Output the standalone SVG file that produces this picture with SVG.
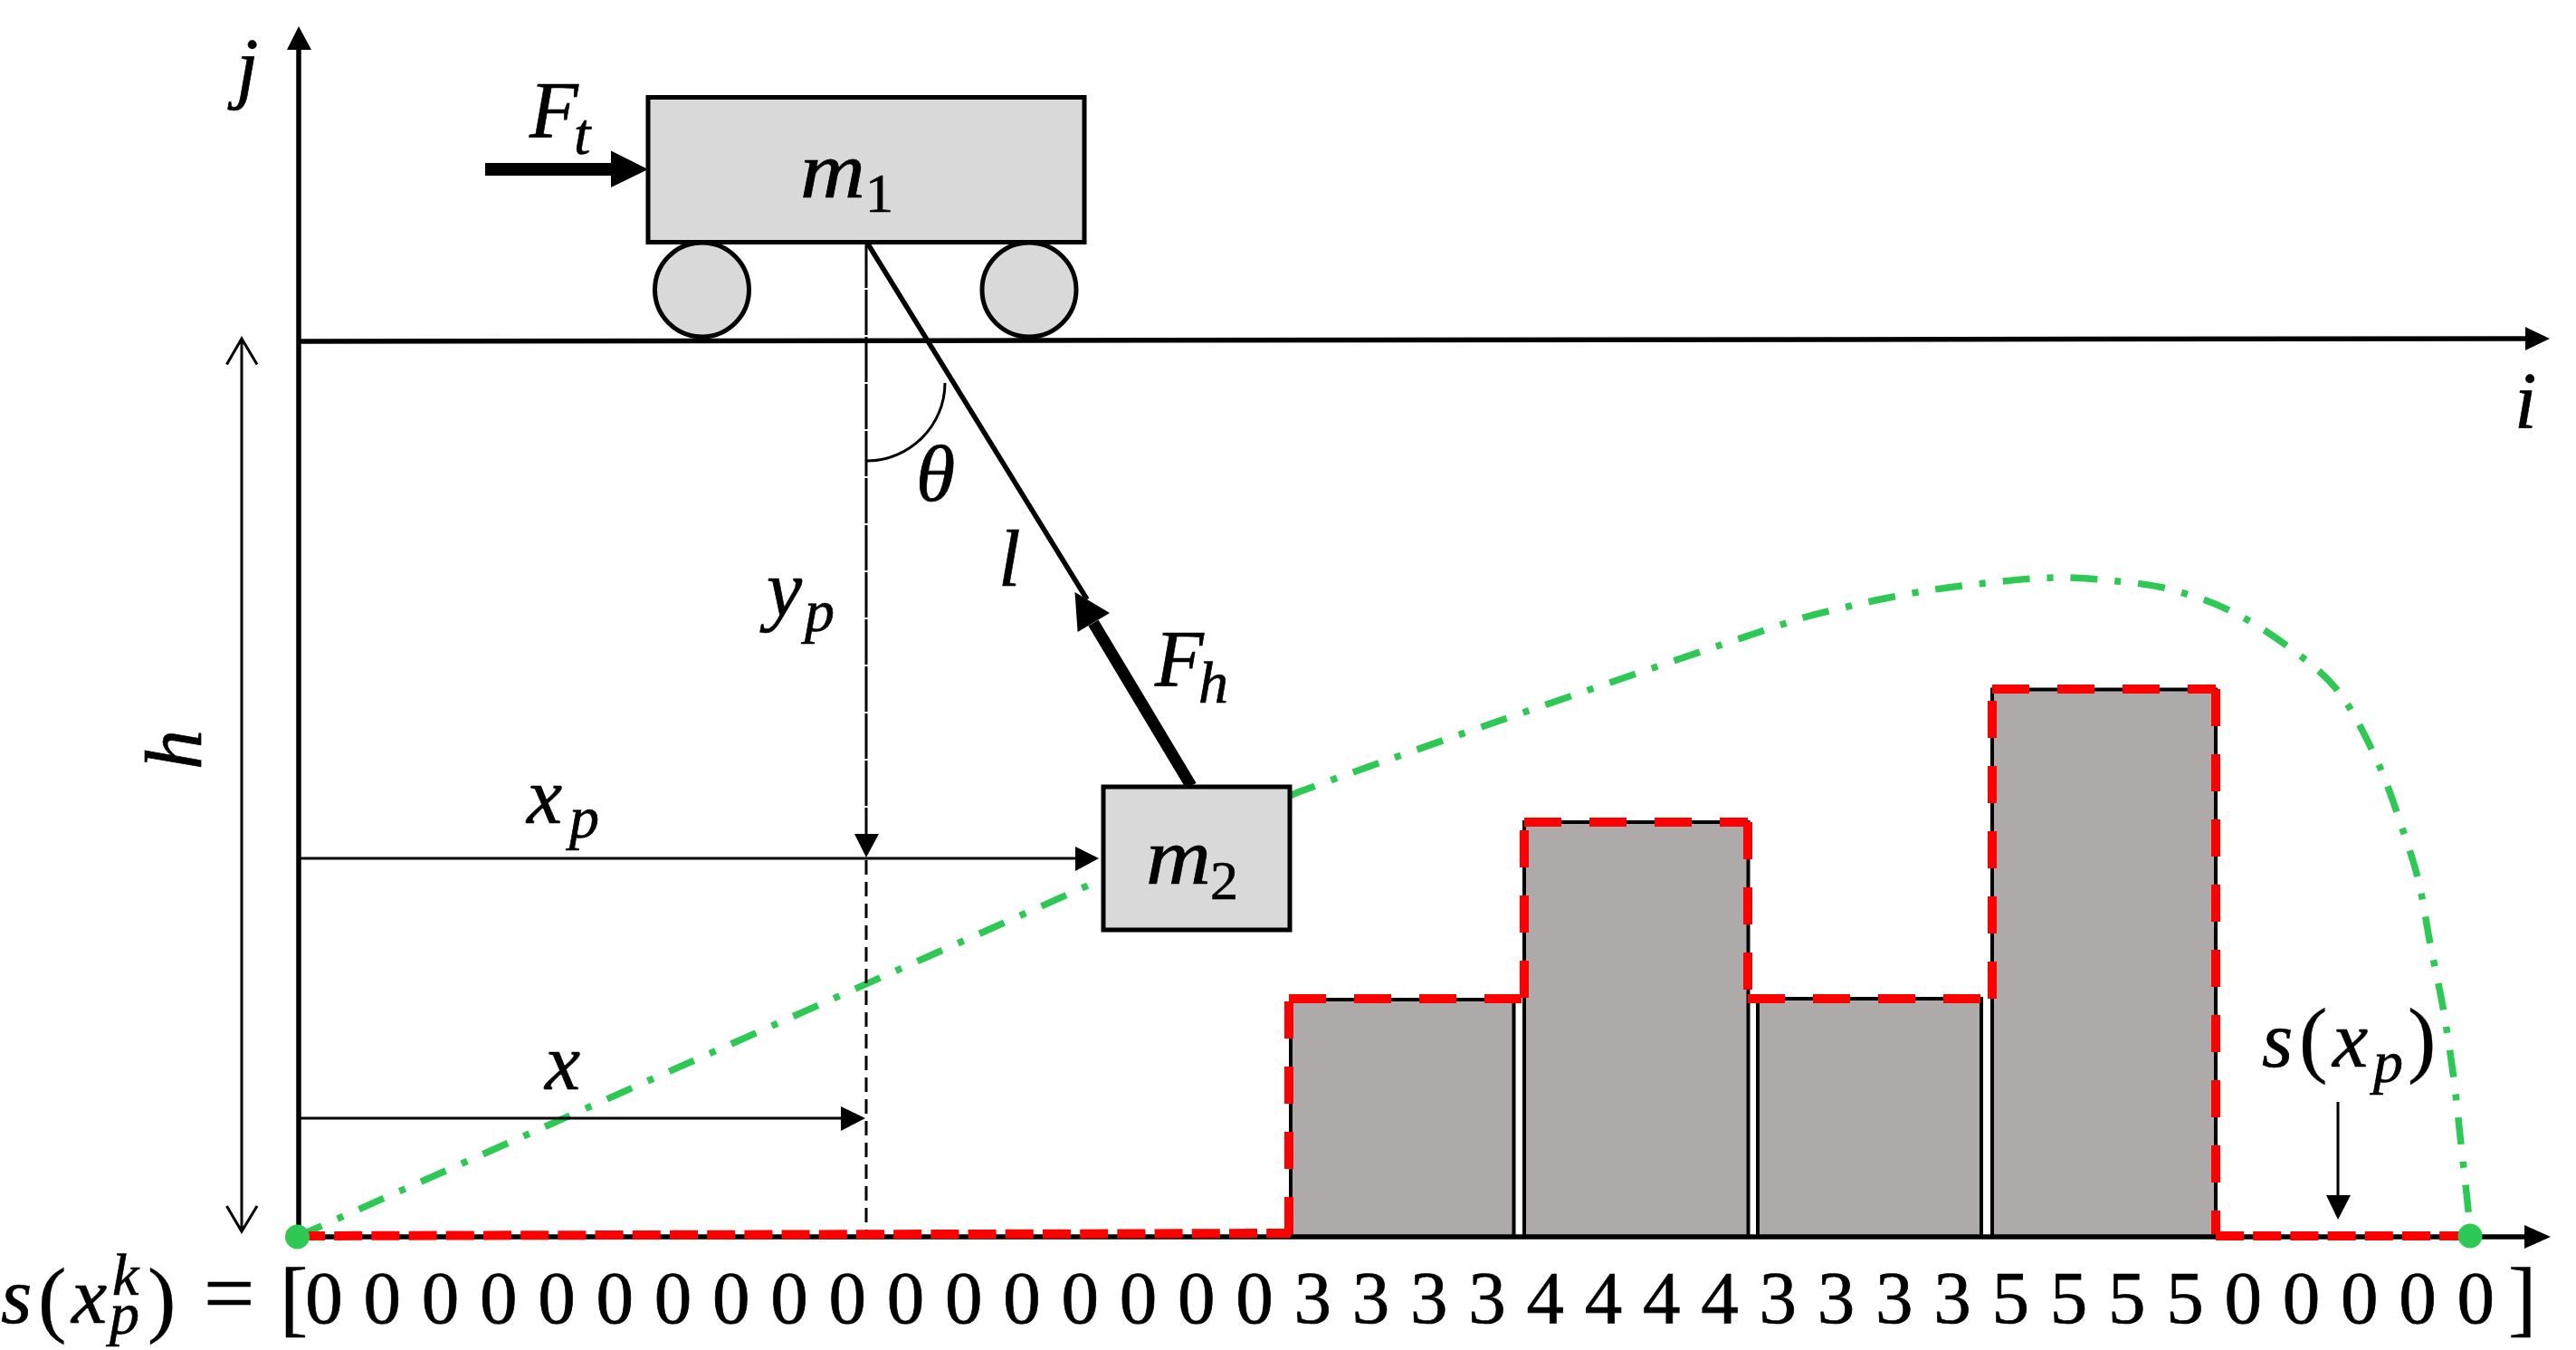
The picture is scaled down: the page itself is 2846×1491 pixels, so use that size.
<svg xmlns="http://www.w3.org/2000/svg" width="2846" height="1491" viewBox="0 0 2846 1491">
<defs>
<style>
text{font-family:"Liberation Serif","Times New Roman",serif;fill:#000;stroke:#000;stroke-width:.7}
.m{font-size:88px;font-style:italic}
.s{font-size:66px;font-style:italic}
.n{font-size:62px}
.u{font-size:94px;stroke-width:.4}
.e{font-size:100px}
.d{font-size:83px;word-spacing:2px}
.ax{stroke:#000;stroke-width:5.500;fill:none}
.th{stroke:#000;stroke-width:3;fill:none}
.body{fill:#d9d9d9;stroke:#000;stroke-width:5}
.blk{fill:#aeaaaa;stroke:#000;stroke-width:4}
.rl{stroke:#ff0000;stroke-width:10;fill:none;stroke-dasharray:41 31}
.rs{stroke:#ff0000;stroke-width:10;fill:none;stroke-dasharray:31 10.2}
.gr{stroke:#2ec955;stroke-width:7.500;fill:none;stroke-dasharray:30 19 7 19}
.dot{fill:#2ec955}
</style>
</defs>
<rect width="2846" height="1491" fill="#fff"/>
<g id="connectors">
<path class="gr" d="M328,1366 L1434,875 C1564,827 1873,721 1983,685 C2001,679 2061,665 2092,659 C2123,653 2142,650 2167,647 C2192,644 2225,640.500 2244,639 C2257,638 2270,638 2282,638 C2294,638 2306,639 2319,640 C2338,642 2370,644 2394,650 C2418,656 2443,664 2465,675 C2487,686 2509,700 2529,715 C2549,730 2568,744 2583,763 C2598,782 2611,808 2622,831 C2633,854 2641,876 2649,900 C2657,924 2666,948 2672,973 C2678,998 2681,1023 2686,1048 C2691,1073 2697,1099 2701,1124 C2705,1149 2709,1175 2712,1200 C2715,1225 2717,1246 2720,1273 C2723,1300 2728,1340 2729,1365"/>
<path class="ax" d="M330,1366 V50"/>
<polygon points="330,29 317,55 344,55"/>
<path class="ax" d="M330,377 L2795,374"/>
<polygon points="2817,374 2790,361 2790,387"/>
<path class="th" d="M267,374 V1360 M250.500,402.600 L267,374 L284,402.600 M250.500,1332 L267,1360 L284,1332"/>
<path class="th" d="M957,268 V925" stroke-dasharray="50 2"/>
<polygon points="957,947 944,921 971,921"/>
<path class="th" d="M957,950 V1364" stroke-dasharray="16 8"/>
<path class="th" d="M332,948 H1190"/>
<polygon points="1214,948 1188,935 1188,962"/>
<path class="th" d="M332,1235 H932"/>
<polygon points="956,1235 929,1222 929,1249"/>
<path class="th" stroke-width="2.500" d="M1044,423 C1044,470 1005,509 958,509"/>
<path class="ax" stroke-width="6" d="M958,268 L1201,662"/>
<polygon points="1187.500,654 1190.600,698 1226,677"/>
<path d="M1316,868 L1208,688" stroke="#000" stroke-width="13" fill="none"/>
<path d="M536,187 H680" stroke="#000" stroke-width="14" fill="none"/>
<polygon points="716,187 675,166.500 675,207"/>
<path class="th" d="M2583,1217 V1325"/>
<polygon points="2583,1347 2570,1320 2597,1320"/>
</g>
<g id="blocks">
<rect class="blk" x="1426" y="1104" width="246.500" height="262"/>
<rect class="blk" x="1684" y="908" width="247.500" height="458"/>
<rect class="blk" x="1942" y="1103" width="247" height="263"/>
<rect class="blk" x="2201" y="761.500" width="247" height="604.500"/>
</g>
<g id="baseline">
<path class="ax" d="M330,1366 H2795"/>
<polygon points="2818,1366 2789,1353 2789,1379"/>
</g>
<g id="profile">
<path class="rs" d="M328,1365 L1426,1362"/>
<path class="rl" d="M1424,1106 V1363"/>
<path class="rl" d="M1424,1103 H1684"/>
<path class="rl" d="M1684,1102 V908"/>
<path class="rl" d="M1684,908 H1931"/>
<path class="rl" d="M1931,908 V1102"/>
<path class="rl" d="M1931,1103 H2189"/>
<path class="rl" d="M2201,1103 V761"/>
<path class="rl" d="M2201,761 H2448"/>
<path class="rl" d="M2448,761 V1363"/>
<path class="rs" d="M2448,1365 H2725"/>
<ellipse class="dot" cx="328.500" cy="1366" rx="13.500" ry="13.500"/>
<ellipse class="dot" cx="2729" cy="1365" rx="13.500" ry="13.500"/>
</g>
<g id="cart">
<circle class="body" cx="775.500" cy="320" r="52"/>
<circle class="body" cx="1137" cy="320" r="52"/>
<rect class="body" x="716" y="107.500" width="482" height="160"/>
<text class="m" x="884" y="218" textLength="72" lengthAdjust="spacingAndGlyphs">m</text><text class="n" x="956" y="234">1</text>
</g>
<g id="m2">
<rect class="body" x="1219" y="869" width="206" height="158"/>
<text class="m" x="1266" y="976" textLength="72" lengthAdjust="spacingAndGlyphs">m</text><text class="n" x="1337" y="993">2</text>
</g>
<g id="labels">
<text class="m" x="261" y="103">j</text>
<text class="m" x="2778" y="472">i</text>
<text class="m" x="585" y="151">F</text><text class="s" x="634" y="170">t</text>
<text class="m" x="1012" y="553">θ</text>
<text class="m" x="1103" y="647">l</text>
<text class="m" x="847" y="680">y</text><text class="s" x="889" y="697">p</text>
<text class="m" x="1276" y="757">F</text><text class="s" x="1324" y="776">h</text>
<text class="m" x="582" y="909">x</text><text class="s" x="629" y="925">p</text>
<text class="m" x="602" y="1203">x</text>
<text class="m" transform="translate(222 850) rotate(-90)">h</text>
<text class="m" x="2499" y="1178">s</text><text class="u" x="2540" y="1178">(</text><text class="m" x="2577" y="1178">x</text><text class="s" x="2622" y="1195">p</text><text class="u" x="2660" y="1178">)</text>
<text class="m" x="1" y="1461">s</text><text class="u" x="42" y="1465">(</text><text class="m" x="79" y="1461">x</text><text class="s" x="124" y="1430">k</text><text class="s" x="121" y="1473">p</text><text class="u" x="163" y="1465">)</text><text class="e" x="225" y="1462">=</text>
<text class="u" x="309" y="1465">[</text>
<text class="d" x="337.250" y="1461">0 0 0 0 0 0 0 0 0 0 0 0 0 0 0 0 0 3 3 3 3 4 4 4 4 3 3 3 3 5 5 5 5 0 0 0 0 0</text>
<text class="u" x="2771" y="1465">]</text>
</g>
</svg>
